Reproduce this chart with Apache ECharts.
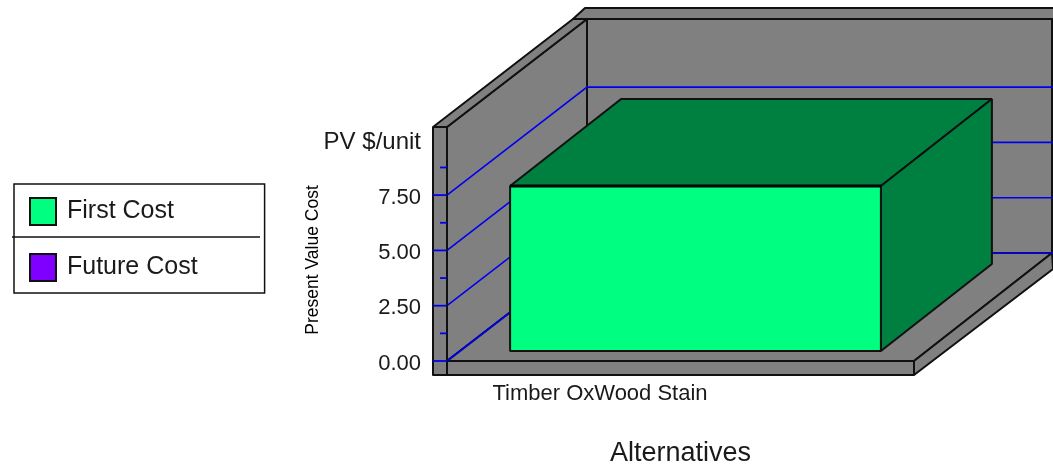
<!DOCTYPE html>
<html><head><meta charset="utf-8">
<script src="https://cdn.jsdelivr.net/npm/echarts@6/dist/echarts.min.js"></script>
<style>html,body{margin:0;padding:0;background:#fff}#c{width:1053px;height:468px}</style>
</head><body><div id="c"></div>
<script>
const categories = ['Timber OxWood Stain'];
const firstCost = [7.46];
const futureCost = [0];
const gridValues = [0, 2.5, 5, 7.5];
const minorValues = [1.25, 3.75, 6.25, 8.75];
const tickLabels = { 0: '0.00', 2.5: '2.50', 5: '5.00', 7.5: '7.50', 10: '{pv|PV $/unit}' };
const axisTop = 10.58;

const FONT = '"Liberation Sans", Arial, sans-serif';
const BLACK = '#101010', GREY = '#808080', BLUE = '#0000F0', TEXT = '#1a1a1a';
const DX = 140, DY = -108, DXR = 138;

const chart = echarts.init(document.getElementById('c'), null, { renderer: 'canvas' });

function poly(points, fill, w) {
  return { type: 'polygon', shape: { points }, style: { fill: fill, stroke: BLACK, lineWidth: w || 2, lineJoin: 'bevel' } };
}
function renderFrame(params, api) {
  const [x0, y0] = api.coord([0, 0]);
  const half = api.size([1, 0])[0] / 2;
  const xl = x0 - half, xr = x0 + half;
  const yt = api.coord([0, axisTop])[1];
  const ch = [];
  const bxl = xl + DX, bxr = xr + DXR, byb = y0 + DY, byt = yt + DY;
  // back wall + rim
  ch.push(poly([[bxl - 14, byt], [bxl - 2, byt - 11], [1055, byt - 11], [1055, byt]], GREY));
  ch.push(poly([[bxl, byt], [bxr, byt], [bxr, byb], [bxl, byb]], GREY));
  // left wall
  ch.push(poly([[xl, yt], [bxl, byt], [bxl, byb], [xl, y0]], GREY));
  ch.push(poly([[xl - 14, yt], [xl, yt], [bxl, byt], [bxl - 14, byt]], GREY));
  // floor
  ch.push(poly([[xl, y0], [bxl, byb], [bxr, byb], [xr, y0]], GREY));
  ch.push(poly([[xr, y0], [bxr, byb], [bxr + 1, byb + 16], [xr, y0 + 14]], GREY));
  ch.push(poly([[xl - 14, y0], [xr, y0], [xr, y0 + 14], [xl - 14, y0 + 14]], GREY));
  // gridlines
  gridValues.forEach(v => {
    const y = api.coord([0, v])[1];
    ch.push({ type: 'polyline', shape: { points: [[xl, y], [bxl, y + DY], [bxr + 1, y + DY]] },
      style: { fill: null, stroke: BLUE, lineWidth: 1.6 } });
  });
  // post
  ch.push(poly([[xl - 14, yt], [xl, yt], [xl, y0 + 14], [xl - 14, y0 + 14]], GREY));
  gridValues.forEach(v => {
    const y = api.coord([0, v])[1];
    ch.push({ type: 'line', shape: { x1: xl - 14, y1: y, x2: xl, y2: y }, style: { stroke: BLUE, lineWidth: 1.8 } });
  });
  minorValues.forEach(v => {
    const y = api.coord([0, v])[1];
    ch.push({ type: 'line', shape: { x1: xl - 7, y1: y, x2: xl, y2: y }, style: { stroke: BLUE, lineWidth: 1.8 } });
  });
  return { type: 'group', children: ch };
}
function renderBar(params, api) {
  const cx = api.coord([api.value(0), 0])[0];
  const base = api.coord([api.value(0), 0])[1] - 10;
  const top = api.coord([api.value(0), api.value(1)])[1] - 10;
  if (base - top < 1) return null;
  const w = api.size([1, 0])[0] * 0.794;
  const l = cx - w / 2 + 15, r = l + w;
  const bx = 111, by = -87;
  const fill = api.visual('color');
  return { type: 'group', children: [
    poly([[l, top], [l + bx, top + by], [r + bx, top + by], [r, top]], '#008040'),
    poly([[r, top], [r + bx, top + by], [r + bx, base + by], [r, base]], '#008040'),
    poly([[l, top], [r, top], [r, base], [l, base]], fill),
    { type: 'line', shape: { x1: l, y1: top, x2: r, y2: top }, style: { stroke: '#000', lineWidth: 3 } }
  ] };
}

chart.setOption({
  animation: false,
  backgroundColor: '#fff',
  grid: { left: 447, top: 127, width: 467, height: 234 },
  legend: {
    left: 14, top: 184, orient: 'vertical', padding: [13, 67, 11, 15],
    borderColor: BLACK, borderWidth: 1.5, itemWidth: 26, itemHeight: 27, itemGap: 27,
    textStyle: { fontFamily: FONT, fontSize: 25, color: TEXT, padding: [0, 0, 0, 6] },
    selectedMode: false,
    data: [
      { name: 'First Cost', icon: 'rect', itemStyle: { color: '#00FF80', borderColor: BLACK, borderWidth: 2 } },
      { name: 'Future Cost', icon: 'rect', itemStyle: { color: '#8000FF', borderColor: BLACK, borderWidth: 2 } }
    ]
  },
  xAxis: {
    type: 'category', data: categories,
    axisLine: { show: false }, axisTick: { show: false },
    axisLabel: { margin: 22, fontFamily: FONT, fontSize: 22, color: TEXT, padding: [0, 161, 0, 0], interval: 0 },
    name: 'Alternatives', nameLocation: 'middle', nameGap: 79,
    nameTextStyle: { fontFamily: FONT, fontSize: 27, color: TEXT }
  },
  yAxis: {
    type: 'value', min: 0, max: axisTop, interval: 2.5,
    axisLine: { show: false }, axisTick: { show: false }, splitLine: { show: false },
    axisLabel: { margin: 26, fontFamily: FONT, fontSize: 22, color: TEXT, showMaxLabel: false, padding: [5, 0, 0, 0],
      formatter: v => tickLabels[v] || '',
      rich: { pv: { fontFamily: FONT, fontSize: 24, color: TEXT } } },
    name: 'Present Value Cost', nameLocation: 'middle', nameRotate: 90, nameGap: 134, nameMoveOverlap: false,
    nameTextStyle: { fontFamily: FONT, fontSize: 17.5, color: '#000', padding: [0, 32, 0, 0], verticalAlign: 'middle' }
  },
  series: [
    { type: 'custom', name: 'Frame', renderItem: renderFrame, data: [[0, 0]], z: 1, silent: true },
    { type: 'custom', name: 'First Cost', renderItem: renderBar, z: 3,
      itemStyle: { color: '#00FF80' }, encode: { x: 0, y: 1 },
      data: firstCost.map((v, i) => [i, v]) },
    { type: 'custom', name: 'Future Cost', renderItem: renderBar, z: 4,
      itemStyle: { color: '#8000FF' }, encode: { x: 0, y: 1 },
      data: futureCost.map((v, i) => [i, v]) }
  ],
  graphic: [{ type: 'line', shape: { x1: 12, y1: 237, x2: 260, y2: 237 }, style: { stroke: BLACK, lineWidth: 1.5 }, z: 10 }]
});
</script></body></html>
